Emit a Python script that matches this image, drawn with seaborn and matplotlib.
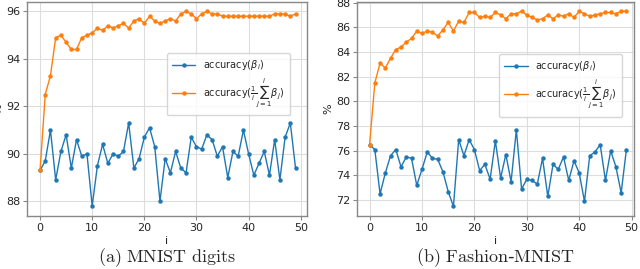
import numpy as np
import pandas as pd
import matplotlib
matplotlib.use("Agg")
import matplotlib.pyplot as plt
import seaborn as sns

iters = list(range(50))

mnist_single = [89.3, 89.7, 91.0, 88.9, 90.1, 90.8, 89.4, 90.6, 89.9, 90.0,
                87.8, 89.5, 90.4, 89.6, 90.0, 89.9, 90.1, 91.3, 89.4, 89.8,
                90.7, 91.1, 90.3, 88.0, 89.8, 89.2, 90.1, 89.4, 89.2, 90.7,
                90.3, 90.2, 90.8, 90.6, 89.9, 90.3, 89.0, 90.1, 89.9, 91.0,
                90.0, 89.1, 89.6, 90.1, 89.1, 90.6, 88.9, 90.7, 91.3, 89.4]
mnist_avg = [89.3, 92.5, 93.3, 94.9, 95.0, 94.7, 94.4, 94.4, 94.9, 95.0,
             95.1, 95.3, 95.2, 95.4, 95.3, 95.4, 95.5, 95.3, 95.6, 95.7,
             95.5, 95.8, 95.6, 95.5, 95.6, 95.7, 95.6, 95.9, 96.0, 95.9,
             95.7, 95.9, 96.0, 95.9, 95.9, 95.8, 95.8, 95.8, 95.8, 95.8,
             95.8, 95.8, 95.8, 95.8, 95.8, 95.9, 95.9, 95.9, 95.8, 95.9]

fashion_single = [76.5, 76.1, 72.5, 74.2, 75.6, 76.1, 74.7, 75.5, 75.4, 73.2,
                  74.5, 75.9, 75.4, 75.3, 74.3, 72.7, 71.5, 76.9, 75.6, 76.9,
                  76.1, 74.4, 74.9, 73.7, 76.8, 73.8, 75.7, 73.5, 77.7, 72.9,
                  73.7, 73.6, 73.3, 75.4, 72.3, 74.9, 74.5, 75.5, 73.6, 75.2,
                  74.2, 71.9, 75.6, 75.9, 76.5, 73.6, 76.0, 74.7, 72.6, 76.1]
fashion_avg = [76.5, 81.5, 83.1, 82.7, 83.5, 84.2, 84.4, 84.8, 85.1, 85.7,
               85.5, 85.7, 85.6, 85.3, 85.8, 86.4, 85.7, 86.5, 86.4, 87.2,
               87.2, 86.8, 86.9, 86.8, 87.2, 87.0, 86.7, 87.1, 87.1, 87.3,
               87.0, 86.8, 86.6, 86.7, 87.0, 86.7, 87.0, 86.9, 87.1, 86.8,
               87.3, 87.1, 86.9, 87.0, 87.1, 87.2, 87.2, 87.1, 87.3, 87.3]

label_single = r'accuracy($\beta_i$)'
label_avg = r'accuracy($\frac{1}{i}\sum_{j=1}^{i}\beta_j$)'
captions = [r'$\mathrm{(a)\ MNIST\ digits}$', r'$\mathrm{(b)\ Fashion}$-$\mathrm{MNIST}$']
yticks_list = [[88, 90, 92, 94, 96], [72, 74, 76, 78, 80, 82, 84, 86, 88]]

sns.set_style("whitegrid")
plt.rcParams['font.family'] = ['DejaVu Sans']

fig = plt.figure(figsize=(6.4, 2.69), dpi=100)
axes = [fig.add_axes([27/640, 1 - 216/269, 280/640, 214/269]),
        fig.add_axes([357/640, 1 - 216/269, 277/640, 214/269])]

blue = '#1f77b4'
orange = '#ff7f0e'

legend_anchor = [(0.939, 0.762), (0.957, 0.757)]
datasets = [(mnist_single, mnist_avg), (fashion_single, fashion_avg)]
for ax, (single, avg), cap, yt, anc in zip(axes, datasets, captions, yticks_list, legend_anchor):
    df = pd.DataFrame({'i': iters, 'single': single, 'avg': avg})
    sns.lineplot(data=df, x='i', y='single', ax=ax, color=blue, marker='o',
                 markersize=3.2, markeredgewidth=0, linewidth=1, label=label_single)
    sns.lineplot(data=df, x='i', y='avg', ax=ax, color=orange, marker='o',
                 markersize=3.2, markeredgewidth=0, linewidth=1, label=label_avg)
    ax.set_xticks([0, 10, 20, 30, 40, 50])
    ax.set_yticks(yt)
    ax.set_xlabel('i', fontsize=8, labelpad=2)
    ax.set_ylabel('%', fontsize=8, labelpad=2)
    ax.tick_params(axis='both', labelsize=8, length=3, width=0.8, color='#888888',
                   pad=2, left=True, bottom=True)
    ax.grid(True, color='#dddddd', linewidth=0.8)
    for s in ax.spines.values():
        s.set_color('#888888')
        s.set_linewidth(1.0)
    leg = ax.legend(loc='upper right', bbox_to_anchor=anc, borderaxespad=0,
                    fontsize=7, frameon=True, handlelength=2.4, labelspacing=0.45,
                    borderpad=0.55)
    leg.get_frame().set_edgecolor('#cccccc')
    pos = ax.get_position()
    fig.text(pos.x0 + pos.width / 2, 1 - 258/269, cap, ha='center', va='center',
             fontsize=13, math_fontfamily='cm')

axes[0].set_xlim(-2.5, 51.2)
axes[1].set_xlim(-2.4, 50.45)
axes[0].set_ylim(87.38, 96.4)
axes[1].set_ylim(70.72, 88.05)

fig.savefig('out.png', dpi=100)
